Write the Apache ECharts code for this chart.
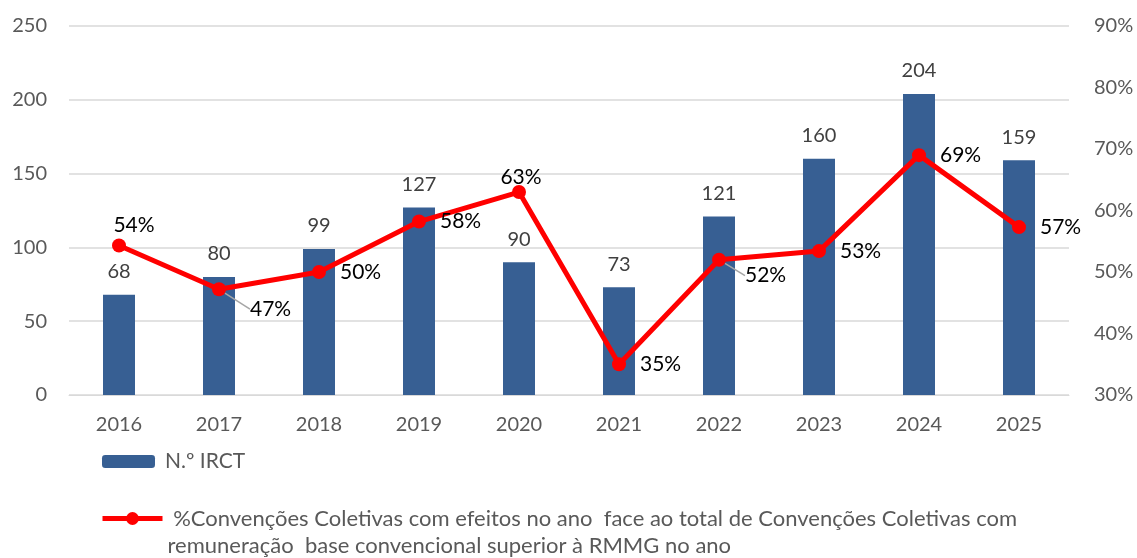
<!DOCTYPE html>
<html><head><meta charset="utf-8">
<script src="https://cdn.jsdelivr.net/npm/echarts@6/dist/echarts.min.js"></script>
<style>html,body{margin:0;padding:0;background:#fff}#c{width:1137px;height:558px}</style>
</head><body><div id="c"></div>
<script>
const categories = ['2016','2017','2018','2019','2020','2021','2022','2023','2024','2025'];
const irct = [68, 80, 99, 127, 90, 73, 121, 160, 204, 159];
const pct = [54.3, 47.2, 50.0, 58.2, 63.0, 35.0, 52.0, 53.4, 69.0, 57.3];
const barName = 'N.º IRCT';
const lineName = ' %Convenções Coletivas com efeitos no ano  face ao total de Convenções Coletivas com\nremuneração  base convencional superior à RMMG no ano';
const labelPos = ['top','right','right','right','top','right','right','right','right','right'];
const guided = [false, true, false, false, false, false, true, false, false, false];

const FONT = 'Lato, "Open Sans", sans-serif';
const chart = echarts.init(document.getElementById('c'));
chart.setOption({
  animation: false,
  grid: {left: 69, right: 68, top: 26, bottom: 163},
  legend: [
    {data: [barName], left: 97, top: 446, itemWidth: 53, itemHeight: 13,
     textStyle: {fontFamily: FONT, fontSize: 21, color: '#595959', padding: [0,0,0,5]}},
    {data: [lineName], left: 95, top: 473, itemWidth: 60, itemHeight: 16,
     formatter: n => '\n' + n,
     lineStyle: {width: 5},
     textStyle: {fontFamily: FONT, fontSize: 22, color: '#595959', lineHeight: 27}}
  ],
  xAxis: {type: 'category', data: categories,
    axisLine: {lineStyle: {color: '#D9D9D9'}}, axisTick: {show: false},
    axisLabel: {fontFamily: FONT, fontSize: 20, color: '#595959', margin: 20}},
  yAxis: [
    {type: 'value', min: 0, max: 250, interval: 50,
     splitLine: {lineStyle: {color: '#D9D9D9', width: 1.5}},
     axisLabel: {fontFamily: FONT, fontSize: 20, color: '#595959', margin: 22}},
    {type: 'value', min: 30, max: 90, interval: 10, splitLine: {show: false},
     axisLabel: {fontFamily: FONT, fontSize: 20, color: '#595959', margin: 25, formatter: '{value}%'}}
  ],
  series: [
    {name: barName, type: 'bar', data: irct, barWidth: 32, itemStyle: {color: '#375F93'},
     label: {show: true, position: 'top', distance: 13, fontFamily: FONT, fontSize: 20, color: '#404040'}},
    {name: lineName, type: 'line', yAxisIndex: 1, z: 5,
     data: pct.map((v, i) => ({value: v, label: {position: labelPos[i]},
       labelLine: {show: guided[i]}})),
     symbol: 'circle', symbolSize: 14,
     lineStyle: {color: '#FF0000', width: 5}, itemStyle: {color: '#FF0000'},
     label: {show: true, distance: 14, fontFamily: FONT, fontSize: 21, color: '#000',
       formatter: p => Math.round(p.value) + '%'},
     labelLine: {show: false, lineStyle: {color: '#A6A6A6', width: 1.5}},
     labelLayout: function (p) {
       if (p.dataIndex === 1) return {dx: 10, dy: 20};
       if (p.dataIndex === 6) return {dx: 5, dy: 16};
       if (p.dataIndex === 0) return {dx: 15, dy: 11};
       if (p.dataIndex === 4) return {dx: 2, dy: 17};
       return {};
     }}
  ]
});
</script></body></html>
